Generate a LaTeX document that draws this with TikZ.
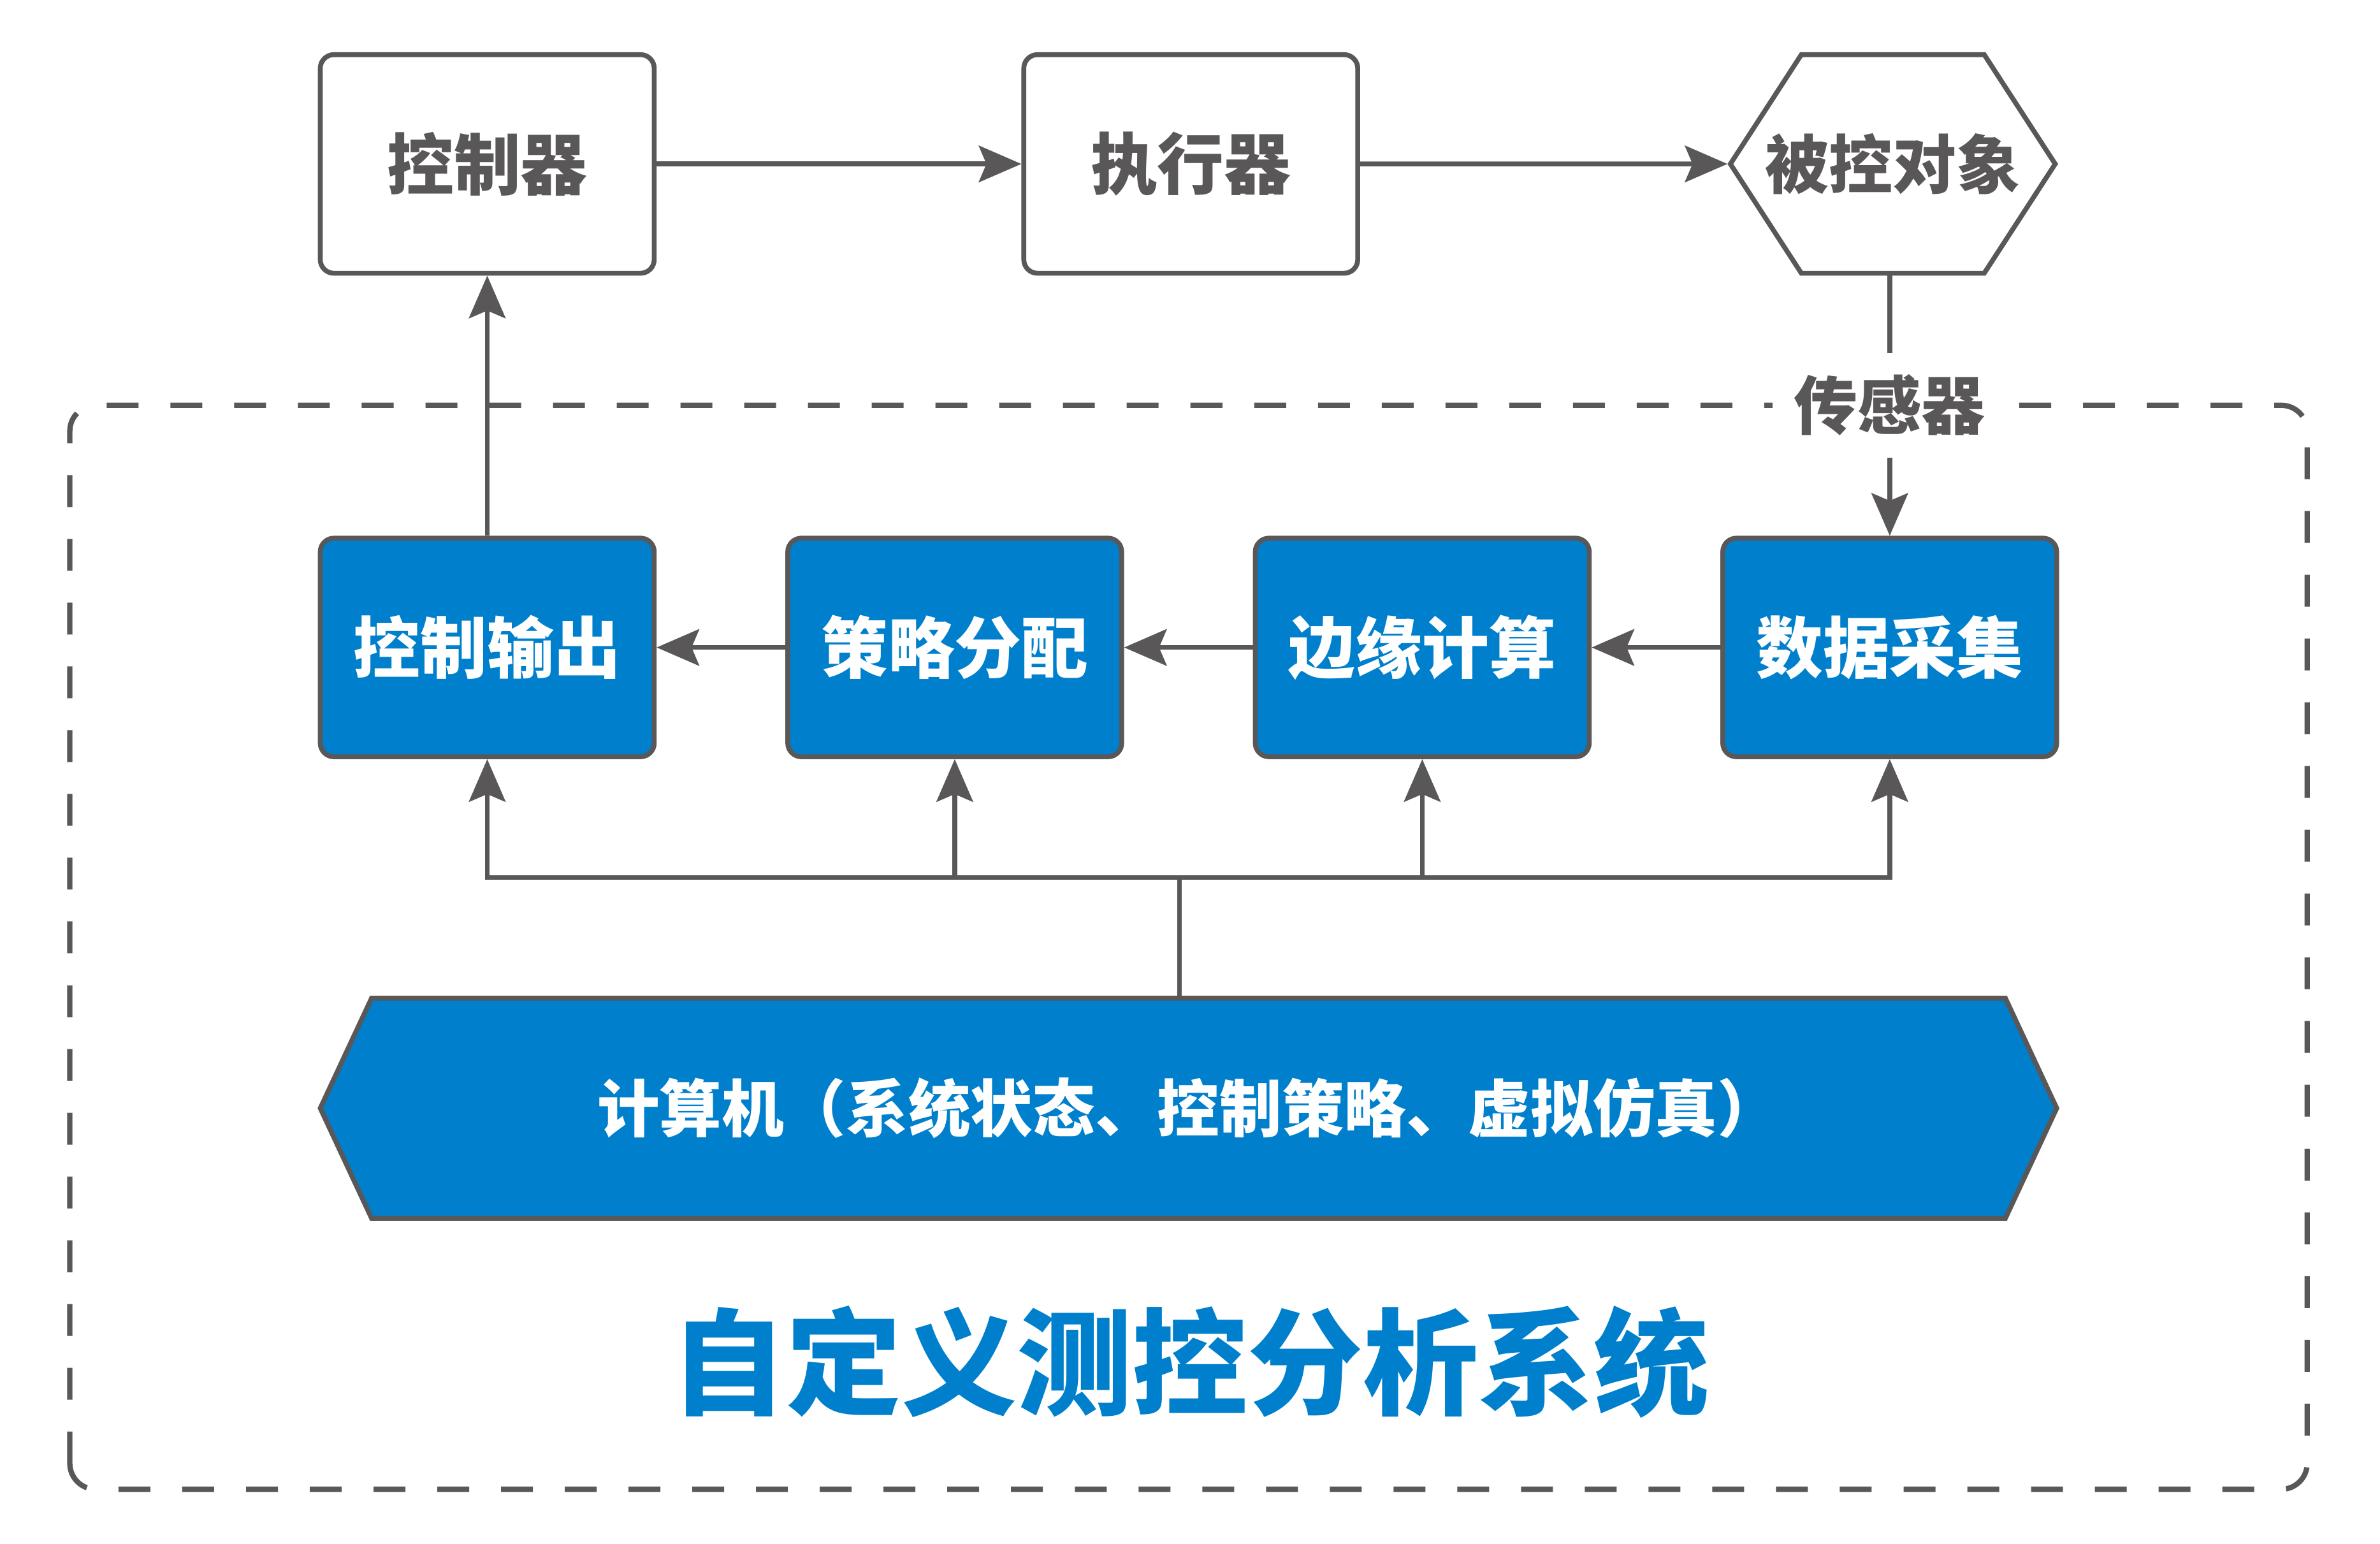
\documentclass[tikz,border=0pt]{standalone}
\usepackage{fontspec}
\newfontfamily\cjk{Noto Sans CJK SC}
\usetikzlibrary{positioning,arrows.meta,shapes.symbols}
\definecolor{grayStroke}{HTML}{595757}
\definecolor{blueFill}{HTML}{0080CC}

\begin{document}
\begin{tikzpicture}[
  x=1pt, y=1pt,
  font=\cjk\bfseries\fontsize{44}{48}\selectfont,
  box/.style={rounded corners=9pt, draw=grayStroke, line width=3.2pt, align=center,
              minimum width=220pt, minimum height=144pt, inner sep=0pt},
  plain/.style={box, fill=white, text=grayStroke},
  blk/.style={box, fill=blueFill, text=white},
  hexa/.style={signal, signal to=east and west, signal pointer angle=114,
               draw=grayStroke, line width=3.2pt, fill=white, text=grayStroke,
               minimum width=214pt, minimum height=144pt, inner ysep=0pt, inner xsep=-24pt,
               font=\cjk\bfseries\fontsize{42}{46}\selectfont},
  banner/.style={signal, signal to=east and west, signal pointer angle=130,
                 draw=grayStroke, line width=3.2pt, fill=blueFill, text=white,
                 minimum width=1144pt, minimum height=145pt, inner sep=0pt,
                 font=\cjk\bfseries\fontsize{41}{45}\selectfont},
  flow/.style={-{Stealth[length=28pt,width=24pt,inset=5pt]}, line width=3.2pt, draw=grayStroke},
  wire/.style={line width=3.2pt, draw=grayStroke, line cap=rect},
  frame/.style={draw=grayStroke, line width=3.5pt, dash pattern=on 21pt off 21pt,
                rounded corners=17pt},
  lbl/.style={fill=white, text=grayStroke, inner sep=14pt,
              font=\cjk\bfseries\fontsize{42}{46}\selectfont},
]
\useasboundingbox (0,0) rectangle (1568,1017);

% ---------------- SYSTEM FRAME ----------------
\draw[frame] (46,36) rectangle (1520,750);

% ---------------- NODES (absolute grid) ----------------
\node[plain] (CTRL) at (321,909) {控制器};
\node[plain] (ACT) at (784.5,909) {执行器};
\node[hexa] (OBJ) at (1247,909) {被控对象};

\node[blk] (OUT) at (321,590.5) {控制输出};
\node[blk] (STRAT) at (629,590.5) {策略分配};
\node[blk] (EDGE) at (937,590.5) {边缘计算};
\node[blk] (ACQ) at (1245,590.5) {数据采集};

\node[banner] (PC) at (783,287) {计算机（系统状态、控制策略、虚拟仿真）};
\node[text=blueFill, font=\cjk\bfseries\fontsize{76}{80}\selectfont] (TITLE) at (784,120)
  {自定义测控分析系统};

\node[lbl] (SENS) at (1245,750) {传感器};
\coordinate (BUS) at (777,439);

% ---------------- EDGES ----------------
\draw[flow] (CTRL) -- (ACT);
\draw[flow] (ACT) -- (OBJ);
\draw[wire, line cap=butt] (OBJ.south -| SENS) -- (SENS.north);
\draw[flow] (SENS.south) -- (ACQ.north);
\draw[flow] (ACQ) -- (EDGE);
\draw[flow] (EDGE) -- (STRAT);
\draw[flow] (STRAT) -- (OUT);
\draw[flow] (OUT) -- (CTRL);
% computer feeds every block over one bus
\draw[wire, line cap=butt] (PC.north -| BUS) -- (BUS);
\draw[wire] (OUT.south |- BUS) -- (ACQ.south |- BUS);
\foreach \blk in {OUT,STRAT,EDGE,ACQ}
  \draw[flow] (\blk.south |- BUS) -- (\blk.south);
\end{tikzpicture}
\end{document}
